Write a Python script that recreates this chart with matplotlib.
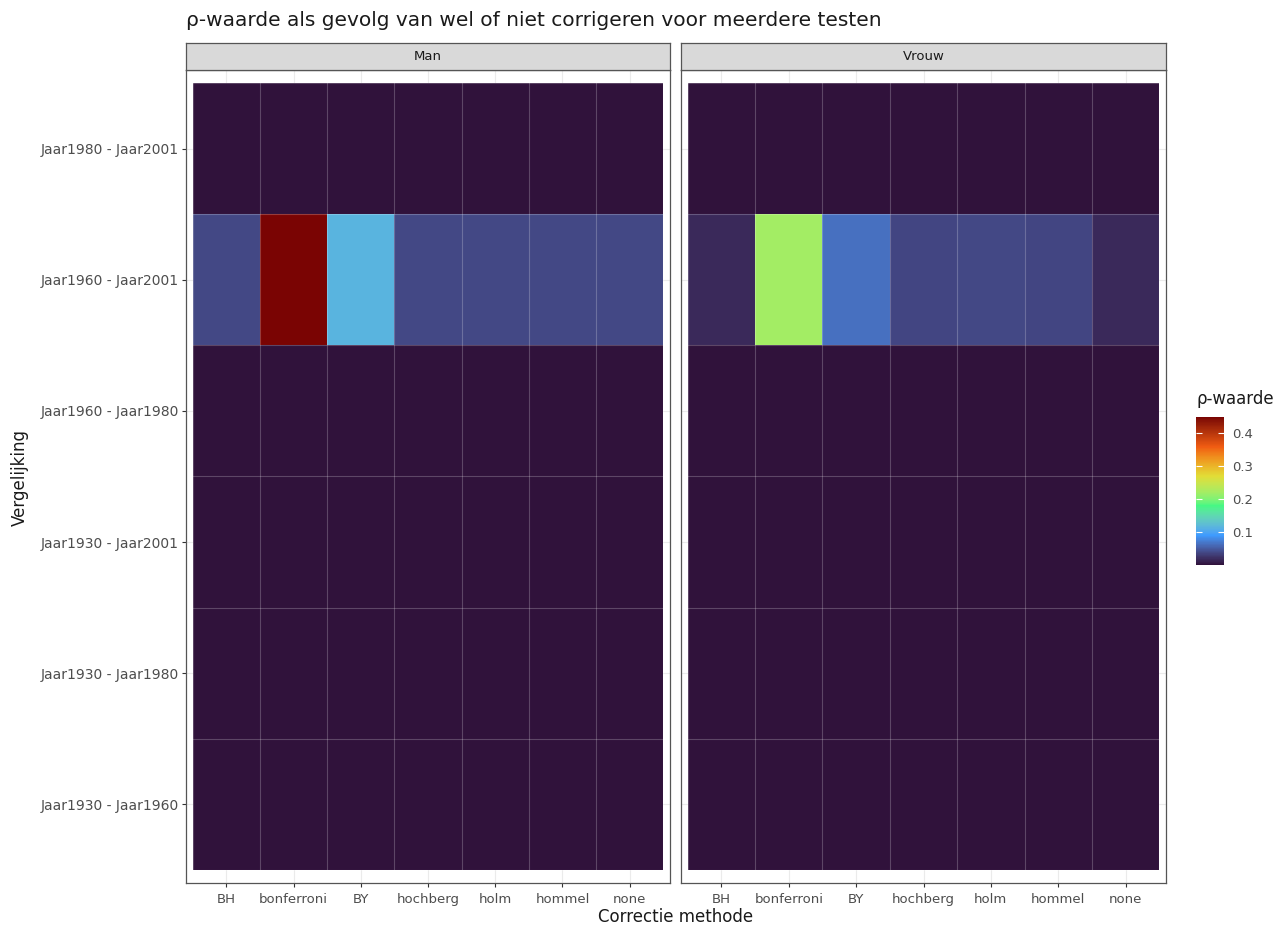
import numpy as np
import matplotlib
matplotlib.use("Agg")
from matplotlib import pyplot as plt
from matplotlib.colors import ListedColormap, to_rgb

plt.rcParams['font.family'] = ['DejaVu Sans']

# data
methoden = ["BH", "bonferroni", "BY", "hochberg", "holm", "hommel", "none"]
vergelijkingen = ["Jaar1930 - Jaar1960", "Jaar1930 - Jaar1980", "Jaar1930 - Jaar2001",
                  "Jaar1960 - Jaar1980", "Jaar1960 - Jaar2001", "Jaar1980 - Jaar2001"]
panelen = ["Man", "Vrouw"]

# p-waarden per rij (onder naar boven), kolommen = methoden
man_1930_1960 = [0, 0, 0, 0, 0, 0, 0]
man_1930_1980 = [0, 0, 0, 0, 0, 0, 0]
man_1930_2001 = [0, 0, 0, 0, 0, 0, 0]
man_1960_1980 = [0, 0, 0, 0, 0, 0, 0]
man_1960_2001 = [0.037, 0.448, 0.115, 0.037, 0.038, 0.037, 0.037]
man_1980_2001 = [0, 0, 0, 0, 0, 0, 0]

vrouw_1930_1960 = [0, 0, 0, 0, 0, 0, 0]
vrouw_1930_1980 = [0, 0, 0, 0, 0, 0, 0]
vrouw_1930_2001 = [0, 0, 0, 0, 0, 0, 0]
vrouw_1960_1980 = [0, 0, 0, 0, 0, 0, 0]
vrouw_1960_2001 = [0.016, 0.22, 0.063, 0.035, 0.037, 0.036, 0.016]
vrouw_1980_2001 = [0, 0, 0, 0, 0, 0, 0]

# turbo in 6 stappen (zoals viridis_pal(option = "H")(6))
turbo6 = ["#30123B", "#3E9BFE", "#46F884", "#E1DD37", "#F05B12", "#7A0403"]

man = np.array([man_1930_1960, man_1930_1980, man_1930_2001,
                man_1960_1980, man_1960_2001, man_1980_2001])
vrouw = np.array([vrouw_1930_1960, vrouw_1930_1980, vrouw_1930_2001,
                  vrouw_1960_1980, vrouw_1960_2001, vrouw_1980_2001])


# Lab interpolatie tussen de kleuren, zoals ggplot doet
def rgb2lab(c):
    c = np.asarray(c, dtype=float)
    lin = np.where(c <= 0.04045, c / 12.92, ((c + 0.055) / 1.055) ** 2.4)
    M = np.array([[0.4124, 0.3576, 0.1805],
                  [0.2126, 0.7152, 0.0722],
                  [0.0193, 0.1192, 0.9505]])
    xyz = M @ lin / np.array([0.95047, 1.0, 1.08883])
    f = np.where(xyz > 0.008856, np.cbrt(xyz), 7.787 * xyz + 16 / 116)
    return np.array([116 * f[1] - 16, 500 * (f[0] - f[1]), 200 * (f[1] - f[2])])


def lab2rgb(lab):
    L, a, b = lab
    fy = (L + 16) / 116
    fx = fy + a / 500
    fz = fy - b / 200
    f = np.array([fx, fy, fz])
    xyz = np.where(f ** 3 > 0.008856, f ** 3, (f - 16 / 116) / 7.787)
    xyz = xyz * np.array([0.95047, 1.0, 1.08883])
    Minv = np.array([[3.2406, -1.5372, -0.4986],
                     [-0.9689, 1.8758, 0.0415],
                     [0.0557, -0.2040, 1.0570]])
    lin = Minv @ xyz
    c = np.where(lin <= 0.0031308, 12.92 * lin, 1.055 * np.clip(lin, 0, None) ** (1 / 2.4) - 0.055)
    return np.clip(c, 0, 1)


labs = [rgb2lab(to_rgb(c)) for c in turbo6]
kleuren = []
for t in np.linspace(0, 1, 256):
    pos = t * (len(labs) - 1)
    i = min(int(pos), len(labs) - 2)
    f = pos - i
    kleuren.append(lab2rgb(labs[i] * (1 - f) + labs[i + 1] * f))
cmap = ListedColormap(kleuren)

W, H = 1275, 925
fig = plt.figure(figsize=(W / 100, H / 100), dpi=100)


def px(x0, y0, x1, y1):
    # pixelvak (oorsprong linksboven) -> figuur fractie
    return [x0 / W, 1 - y1 / H, (x1 - x0) / W, (y1 - y0) / H]


vmin, vmax = 0.0, 0.448
tekst_grijs = "#4D4D4D"

paneel_x = [(186, 670), (681, 1166)]
for k, (naam, data) in enumerate(zip(panelen, [man, vrouw])):
    x0, x1 = paneel_x[k]
    ax = fig.add_axes(px(x0, 70, x1, 883))
    ax.set_facecolor("white")
    nx, ny = len(methoden), len(vergelijkingen)
    xe = np.arange(nx + 1) + 0.5
    ye = np.arange(ny + 1) + 0.5
    mesh = ax.pcolormesh(xe, ye, data, cmap=cmap, vmin=vmin, vmax=vmax, zorder=2)
    # tegelranden
    for xv in xe:
        ax.plot([xv, xv], [ye[0], ye[-1]], color="white", alpha=0.22, lw=0.8, zorder=3)
    for yv in ye:
        ax.plot([xe[0], xe[-1]], [yv, yv], color="white", alpha=0.22, lw=0.8, zorder=3)
    ax.set_xlim(0.4, nx + 0.6)
    ax.set_ylim(0.4, ny + 0.6)
    ax.set_xticks(np.arange(1, nx + 1))
    ax.set_xticklabels(methoden)
    ax.set_yticks(np.arange(1, ny + 1))
    ax.grid(True, color="#EBEBEB", lw=0.8, zorder=0)
    ax.set_axisbelow(True)
    ax.tick_params(labelsize=9.5, colors="#333333", labelcolor=tekst_grijs, length=3, width=0.8)
    ax.tick_params(axis="x", pad=4.5)
    ax.tick_params(axis="y", labelsize=10, pad=2)
    if k == 0:
        ax.set_yticklabels(vergelijkingen)
    else:
        ax.set_yticklabels([])
        ax.tick_params(axis="y", length=0)
    for s in ax.spines.values():
        s.set_color("#555555")
        s.set_linewidth(0.9)
    # strip
    sax = fig.add_axes(px(x0, 43, x1, 70))
    sax.set_facecolor("#D9D9D9")
    sax.set_xticks([])
    sax.set_yticks([])
    for s in sax.spines.values():
        s.set_color("#555555")
        s.set_linewidth(0.9)
    sax.text(0.5, 0.5, naam, ha="center", va="center", fontsize=9.5, color="#1A1A1A",
             transform=sax.transAxes)

fig.text(186 / W, 1 - 20 / H, "ρ-waarde als gevolg van wel of niet corrigeren voor meerdere testen",
         ha="left", va="center", fontsize=14.5, color="#1A1A1A")
fig.text(676 / W, 1 - 917 / H, "Correctie methode", ha="center", va="center",
         fontsize=12, color="#1A1A1A")
fig.text(20 / W, 1 - 477 / H, "Vergelijking", ha="center", va="center", rotation=90,
         fontsize=12, color="#1A1A1A")

# kleurenschaal
cax = fig.add_axes(px(1196, 417, 1224, 565))
cb = fig.colorbar(mesh, cax=cax)
cb.set_ticks([0.1, 0.2, 0.3, 0.4])
cb.set_ticklabels(["0.1", "0.2", "0.3", "0.4"])
cb.outline.set_visible(False)
cax.tick_params(direction="in", color="white", length=4.3, width=0.8, left=True, right=True,
                labelsize=9.5, labelcolor=tekst_grijs, pad=6)
fig.text(1196 / W, 1 - 399 / H, "ρ-waarde", ha="left", va="center", fontsize=12, color="#1A1A1A")

fig.savefig("out.png", dpi=100)
